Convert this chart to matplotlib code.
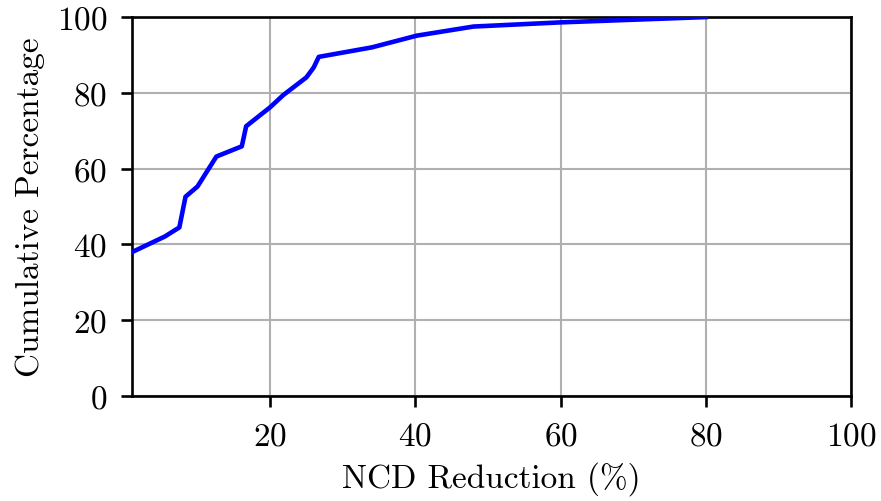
import matplotlib
matplotlib.use("Agg")
import matplotlib.pyplot as plt

plt.rcParams['font.family'] = 'serif'
plt.rcParams['font.serif'] = ['cmr10']
plt.rcParams['mathtext.fontset'] = 'cm'
plt.rcParams['axes.formatter.use_mathtext'] = True

ncd_reduction = [1.0, 5.5, 7.5, 8.35, 10.0, 12.6, 16.1, 16.7, 20.0, 21.8, 25.0, 26.0, 26.7, 34.0, 40.2, 48.0, 60.0, 80.0]
cumulative_pct = [38.0, 42.1, 44.5, 52.6, 55.3, 63.2, 65.9, 71.2, 76.2, 79.4, 84.1, 86.7, 89.5, 92.0, 95.1, 97.5, 98.6, 100.0]
x_ticks = [20, 40, 60, 80, 100]
y_ticks = [0, 20, 40, 60, 80, 100]

fig = plt.figure(figsize=(8.81, 5.02), dpi=100)
ax = fig.add_axes([0.150, 0.209, 0.816, 0.755])
ax.plot(ncd_reduction, cumulative_pct, color='#0000ff', linewidth=3.3, zorder=3)
ax.set_xlim(1.0, 100)
ax.set_ylim(0, 100)
ax.set_xticks(x_ticks)
ax.set_yticks(y_ticks)
ax.grid(True, color='#b0b0b0', linewidth=1.5)
ax.set_axisbelow(True)
for s in ax.spines.values():
    s.set_linewidth(1.9)
ax.tick_params(axis='both', labelsize=24, width=1.9, length=8, pad=10, direction='out')
ax.set_xlabel('NCD Reduction (%)', fontsize=24, labelpad=8)
ax.set_ylabel('Cumulative Percentage', fontsize=24, labelpad=8)
fig.savefig('out.png', dpi=100)
